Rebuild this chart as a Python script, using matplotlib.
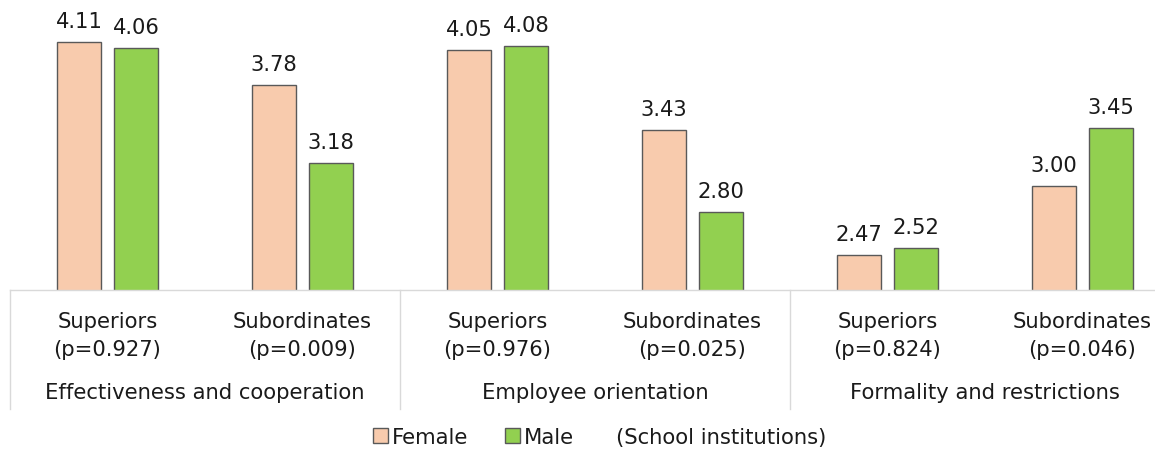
import matplotlib.pyplot as plt
from matplotlib.patches import Patch

groups = ["Effectiveness and cooperation", "Employee orientation", "Formality and restrictions"]
roles = ["Superiors", "Subordinates"] * 3
p_values = ["(p=0.927)", "(p=0.009)", "(p=0.976)", "(p=0.025)", "(p=0.824)", "(p=0.046)"]
female = [4.11, 3.78, 4.05, 3.43, 2.47, 3.00]
male = [4.06, 3.18, 4.08, 2.80, 2.52, 3.45]

FEMALE_C = "#F8CBAD"
MALE_C = "#92D050"
EDGE = "#595959"
GRID = "#D9D9D9"
TXT = "#1a1a1a"
FS = 15.2

fig = plt.figure(figsize=(11.55, 4.52), dpi=100)
# axes spans a bit past the right edge, the reference is cropped there
ax = fig.add_axes([10 / 1155, 161 / 452, 1170 / 1155, 291 / 452])

x = list(range(len(female)))
w = 0.225
off = 0.146
ax.bar([i - off for i in x], female, width=w, color=FEMALE_C,
       edgecolor=EDGE, linewidth=1)
ax.bar([i + off for i in x], male, width=w, color=MALE_C,
       edgecolor=EDGE, linewidth=1)
ax.set_ylim(2.2, 4.44)
ax.set_xlim(-0.5, 5.5)

for i in x:
    for xpos, v in ((i - off, female[i]), (i + off, male[i])):
        ax.annotate(f"{v:.2f}", (xpos, v), xytext=(0, 11), textcoords="offset pixels",
                    ha="center", va="bottom", fontsize=FS, color=TXT)

for a in ax.spines.values():
    a.set_visible(False)
ax.set_xticks([])
ax.set_yticks([])

# baseline and group separators
ax.plot([-0.5, 5.5], [0, 0], transform=ax.get_xaxis_transform(), color=GRID,
        lw=1, clip_on=False)
sep_bottom = -119 / 291
for xs in (-0.5, 1.5, 3.5, 5.5):
    ax.plot([xs, xs], [0, sep_bottom], transform=ax.get_xaxis_transform(),
            color=GRID, lw=1, clip_on=False)

for i in x:
    ax.annotate(roles[i], (i, 0), xycoords=("data", "axes fraction"),
                xytext=(0, -31), textcoords="offset pixels", ha="center", va="center",
                fontsize=FS, color=TXT)
    ax.annotate(p_values[i], (i, 0), xycoords=("data", "axes fraction"),
                xytext=(0, -59), textcoords="offset pixels", ha="center", va="center",
                fontsize=FS, color=TXT)
for g, name in enumerate(groups):
    ax.annotate(name, (2 * g + 0.5, 0), xycoords=("data", "axes fraction"),
                xytext=(0, -102), textcoords="offset pixels", ha="center", va="center",
                fontsize=FS, color=TXT)

handles = [Patch(facecolor=FEMALE_C, edgecolor=EDGE, linewidth=1),
           Patch(facecolor=MALE_C, edgecolor=EDGE, linewidth=1)]
fig.legend(handles, ["Female", "Male"], loc="center left",
           bbox_to_anchor=(373 / 1155, 1 - 438 / 452), ncol=2, frameon=False,
           fontsize=FS, handlelength=0.7, handleheight=0.7, handletextpad=0.2,
           columnspacing=1.75, labelcolor=TXT, borderpad=0, borderaxespad=0)
fig.text(721 / 1155, 1 - 438 / 452, "(School institutions)", ha="center", va="center",
         fontsize=FS, color=TXT)

fig.savefig("out.png", dpi=100)
